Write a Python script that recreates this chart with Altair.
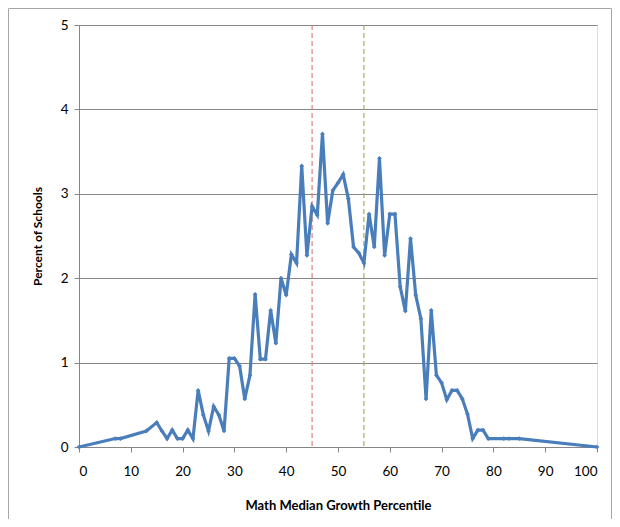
import altair as alt
import pandas as pd

# Math median growth percentile (x) and percent of schools (y)
percentile = [0, 7, 8, 13, 15, 16, 17, 18, 19, 20, 21, 22, 23, 24, 25, 26, 27, 28,
              29, 30, 31, 32, 33, 34, 35, 36, 37, 38, 39, 40, 41, 42, 43, 44, 45,
              46, 47, 48, 49, 50, 51, 52, 53, 54, 55, 56, 57, 58, 59, 60, 61, 62,
              63, 64, 65, 66, 67, 68, 69, 70, 71, 72, 73, 74, 75, 76, 77, 78, 79,
              82, 83, 85, 100]
pct_schools = [0, 0.1, 0.1, 0.19, 0.29, 0.19, 0.1, 0.2, 0.1, 0.1, 0.2, 0.1, 0.67,
               0.38, 0.19, 0.48, 0.38, 0.19, 1.05, 1.05, 0.96, 0.57, 0.85, 1.81,
               1.04, 1.04, 1.62, 1.23, 2.0, 1.8, 2.28, 2.18, 3.33, 2.27, 2.85, 2.75,
               3.71, 2.65, 3.04, 3.13, 3.23, 2.94, 2.37, 2.3, 2.18, 2.76, 2.37, 3.42,
               2.27, 2.76, 2.76, 1.9, 1.61, 2.47, 1.8, 1.52, 0.57, 1.62, 0.85, 0.76,
               0.56, 0.67, 0.67, 0.57, 0.39, 0.1, 0.2, 0.2, 0.1, 0.1, 0.1, 0.1, 0]

ref_x = [45, 55]
ref_color = ["#D9827F", "#9BB25E"]

x_ticks = list(range(0, 101, 10))
y_ticks = [0, 1, 2, 3, 4, 5]

df = pd.DataFrame({"p": percentile, "s": pct_schools})
refs = pd.DataFrame({"x": ref_x, "c": ref_color})

FONT = "Lato"

x_scale = alt.Scale(domain=[0, 100], nice=False, zero=False)
y_scale = alt.Scale(domain=[0, 5], nice=False)

# outer chart frame (decoration), drawn as three rules
one = pd.DataFrame({"a": [0]})
fr = dict(stroke="#A6A6A6", strokeWidth=1)
frame_left = alt.Chart(one).mark_rule(**fr).encode(
    x=alt.value(-70.5), y=alt.value(-16.5), y2=alt.value(520))
frame_top = alt.Chart(one).mark_rule(**fr).encode(
    x=alt.value(-70.5), x2=alt.value(532.5), y=alt.value(-16.5))
frame_right = alt.Chart(one).mark_rule(**fr).encode(
    x=alt.value(532.5), y=alt.value(-16.5), y2=alt.value(520))

rules = alt.Chart(refs).mark_rule(strokeWidth=1.2, strokeDash=[5, 3]).encode(
    x=alt.X("x:Q", scale=x_scale),
    y=alt.value(0), y2=alt.value(422),
    color=alt.Color("c:N", scale=None),
)

line = alt.Chart(df).mark_line(
    color="#4A7EBB", strokeWidth=3.2,
    point=alt.OverlayMarkDef(shape="diamond", size=22, color="#4A7EBB", filled=True),
).encode(
    x=alt.X("p:Q", scale=x_scale,
            axis=alt.Axis(title="Math Median  Growth Percentile", values=x_ticks,
                          grid=False, domainColor="#868686", tickColor="#868686",
                          tickSize=5, labelFontSize=13.5, labelFont=FONT,
                          labelColor="#000000", labelPadding=12,
                          titleFont=FONT, titleFontSize=13, titleFontWeight="bold",
                          titleColor="#000000", titlePadding=22)),
    y=alt.Y("s:Q", scale=y_scale,
            axis=alt.Axis(title="Percent of Schools", values=y_ticks,
                          grid=True, gridColor="#868686", gridWidth=1,
                          domainColor="#868686", tickColor="#868686", tickSize=5,
                          labelFontSize=13.5, labelFont=FONT, labelColor="#000000",
                          labelPadding=6, titleFont=FONT, titleFontSize=12,
                          titleFontWeight="bold", titleColor="#000000",
                          titlePadding=16)),
)

chart = alt.layer(frame_left, frame_top, frame_right, rules, line).properties(
    width=518, height=422,
    autosize=alt.AutoSizeParams(type="none"),
    padding={"left": 71, "top": 17, "right": 15, "bottom": 72},
).configure_view(stroke=None).configure(background="#FFFFFF")

chart.save("out.html", embed_options={"renderer": "svg", "actions": False})
